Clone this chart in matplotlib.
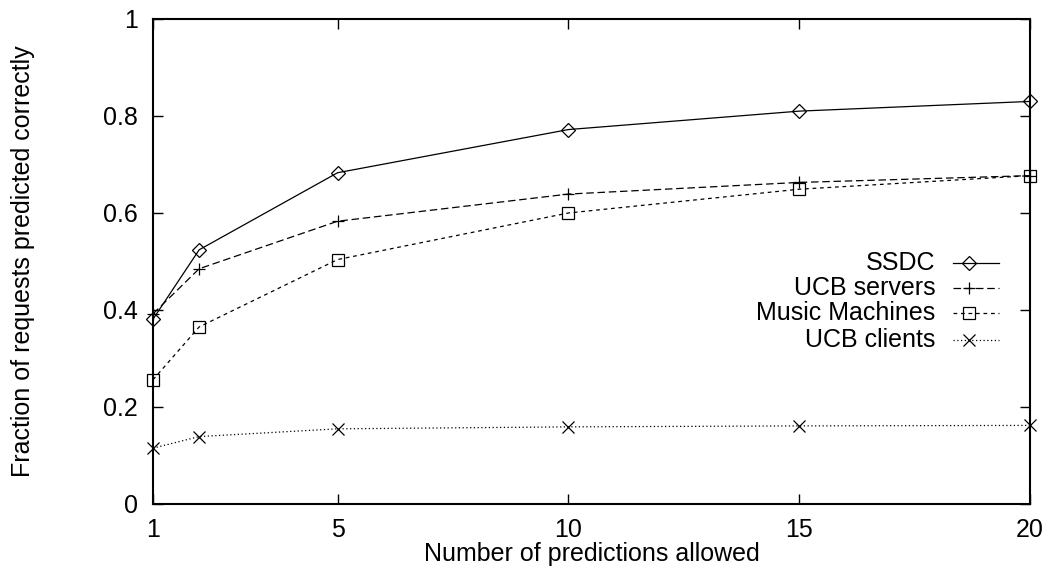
import matplotlib
matplotlib.use("Agg")
import matplotlib.pyplot as plt
from matplotlib.lines import Line2D

plt.rcParams['font.family'] = ['Liberation Sans', 'DejaVu Sans']

x = [1, 2, 5, 10, 15, 20]
ssdc = [0.381, 0.524, 0.683, 0.772, 0.810, 0.830]
ucb_servers = [0.392, 0.485, 0.583, 0.639, 0.663, 0.677]
music = [0.256, 0.365, 0.504, 0.600, 0.649, 0.677]
ucb_clients = [0.115, 0.139, 0.155, 0.159, 0.161, 0.162]

names = ['SSDC', 'UCB servers', 'Music Machines', 'UCB clients']
series = [ssdc, ucb_servers, music, ucb_clients]
markers = ['D', '+', 's', 'x']
msizes = [7, 9, 8.5, 8.5]
styles = ['-', (0, (6, 3)), (0, (3, 3)), (0, (1, 2))]

fig = plt.figure(figsize=(10.47, 5.75), dpi=100)
ax = fig.add_axes([0.1461, 0.1235, 0.8377, 0.8435])

for y, m, ms, ls in zip(series, markers, msizes, styles):
    ax.plot(x, y, color='black', lw=0.9, linestyle=ls, marker=m, ms=ms,
            mfc='none', mec='black', mew=0.9, clip_on=False)

ax.set_xlim(1, 20)
ax.set_ylim(0, 1)
ax.set_xticks([1, 5, 10, 15, 20])
ax.set_yticks([0, 0.2, 0.4, 0.6, 0.8, 1])
ax.set_yticklabels(['0', '0.2', '0.4', '0.6', '0.8', '1'])
ax.tick_params(direction='in', length=7, width=1, labelsize=18, top=True, right=True)
ax.tick_params(axis='y', pad=11)
ax.tick_params(axis='x', pad=10)
for s in ax.spines.values():
    s.set_linewidth(1.5)

ax.set_xlabel('Number of predictions allowed', fontsize=18, labelpad=0)
ax.set_ylabel('Fraction of requests predicted correctly', fontsize=18, labelpad=49)

# legend, gnuplot style: label right-aligned, sample on the right
rows = [0.497, 0.445, 0.394, 0.338]
for name, m, ms, ls, yy in zip(names, markers, msizes, styles, rows):
    ax.text(0.892, yy, name, transform=ax.transAxes, ha='right', va='center', fontsize=18)
    ax.add_line(Line2D([0.912, 0.965], [yy, yy], transform=ax.transAxes, color='black',
                       lw=0.9, linestyle=ls))
    ax.add_line(Line2D([0.930], [yy], transform=ax.transAxes, color='black', marker=m,
                       ms=ms, mfc='none', mec='black', mew=0.9, linestyle='none'))

fig.savefig('out.png', dpi=100)
